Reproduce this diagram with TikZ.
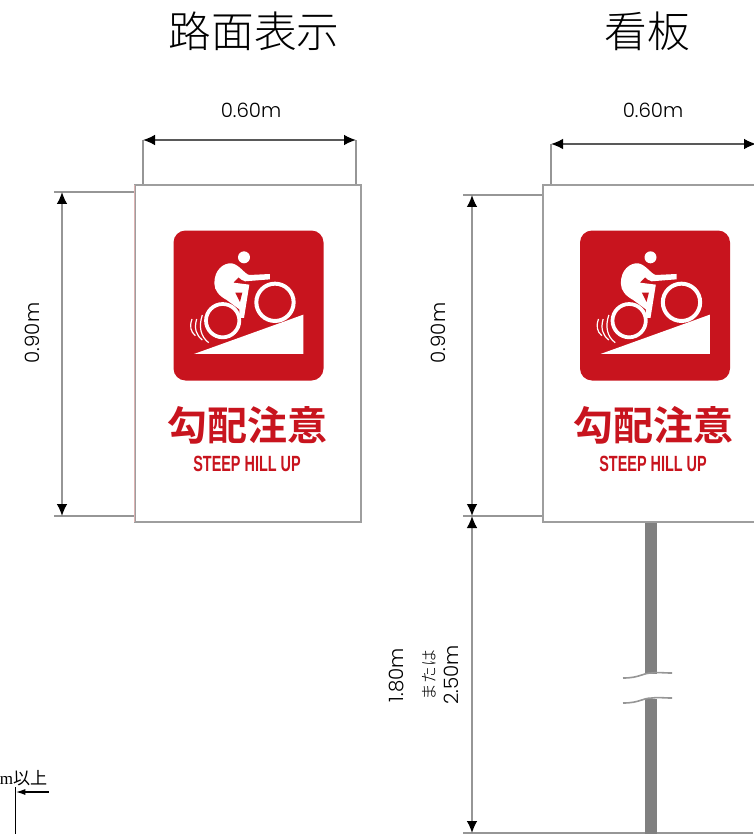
\documentclass[tikz,border=0pt]{standalone}
\usepackage{fontspec}
\usepackage{xcolor}
\usetikzlibrary{arrows.meta}
\setmainfont{Noto Sans CJK JP}
\newfontfamily\titlefont{Noto Sans CJK JP Light}
\newfontfamily\signfont{Noto Sans CJK JP Bold}
\newfontfamily\latinfont{Liberation Sans Bold}
\newfontfamily\dimfont{Poppins Light}
\newfontfamily\serifpart{Liberation Serif}
\definecolor{signred}{RGB}{200,20,30}
\definecolor{linegray}{RGB}{150,150,150}
\definecolor{polegray}{RGB}{128,128,128}
\tikzset{
  dimline/.style={color=linegray,line width=1.2pt},
  dimarrow/.style={dimline,{Latex[black,length=9pt,width=8pt]}-{Latex[black,length=9pt,width=8pt]}},
  widtharrow/.style={dimarrow,color=black!65},
  boardline/.style={color=black!38,line width=1.5pt,fill=white},
  titlelabel/.style={font=\titlefont\fontsize{32}{32}\selectfont},
  dimlabel/.style={font=\dimfont\fontsize{14.8}{15}\selectfont},
  jplabel/.style={font=\titlefont\fontsize{12.5}{13}\selectfont},
  signlabel/.style={font=\signfont\fontsize{30}{30}\selectfont,text=signred},
  englabel/.style={font=\latinfont\fontsize{16.5}{16.5}\selectfont,text=signred,xscale=0.655},
  cycleicon/.pic={
    \fill [signred,rounded corners=9pt] (0,0) rectangle (150,150);
    \begin{scope}[shift={(-13.5,-10.5)},scale=0.3333]
    \fill [white] (252,112) circle [radius=18];
    \fill [white] (163,190) .. controls (163,150) and (190,128) .. (215,130) .. controls (237,133) and (255,163) .. (268,165) -- (330,162) -- (330,178) -- (255,184) .. controls (245,181) and (240,176) .. (236,172) -- (220,188) -- (268,194) -- (252,294) -- (238,294) -- (238,268) -- (200,240) .. controls (178,228) and (163,212) .. (163,190) -- cycle;
    \fill [signred] (226,218) -- (247,218) -- (240,246) -- cycle;
    \draw [white,line width=3pt] (345,247) circle [radius=56];
    \draw [white,line width=2.8pt] (188,302) circle [radius=50];
    \fill [white] (102,402) -- (430,284) -- (430,402) -- cycle;
    \draw [white,line width=0.9pt] (96,297) .. controls (88,320) and (92,335) .. (106,347);
    \draw [white,line width=0.9pt] (110,297) .. controls (102,325) and (108,345) .. (127,360);
    \draw [white,line width=0.9pt] (127,285) .. controls (115,320) and (122,350) .. (146,368);
    \end{scope}
  }
}
\begin{document}
\begin{tikzpicture}[x=0.75pt,y=0.75pt,yscale=-1,xscale=1]
\useasboundingbox (0,0) rectangle (753,834);

% titles
\node [titlelabel] (titleroad) at (254,31) {路面表示};
\node [titlelabel] (titlepost) at (647,31) {看板};

% left sign
\coordinate (lefttopa) at (143,140);
\coordinate (lefttopb) at (356,140);
\coordinate (lefthigha) at (62,192);
\coordinate (lefthighb) at (62,516);
\draw [dimline] (143,185) -- (lefttopa);
\draw [dimline] (356,185) -- (lefttopb);
\draw [dimline] (54,192) -- (135,192);
\draw [dimline] (54,516) -- (135,516);
\draw [widtharrow] (lefttopa) -- (lefttopb);
\draw [dimarrow] (lefthigha) -- (lefthighb);
\draw [boardline] (135,185) rectangle (361,522);
\draw [color=red!55!black!30,line width=0.8pt] (134.5,185) -- (134.5,522);
\pic [transform shape] at (173.5,230.5) {cycleicon};
\node [signlabel] (signroad) at (247,425) {勾配注意};
\node [englabel] (engroad) at (247,464) {STEEP HILL UP};
\node [dimlabel] (widthroad) at (251,110) {0.60m};
\node [dimlabel,rotate=90] (heightroad) at (32,333) {0.90m};

% right sign and pole
\coordinate (righttopa) at (551,144);
\coordinate (righttopb) at (756,144);
\coordinate (righthigha) at (472,195);
\coordinate (righthighb) at (472,516);
\coordinate (rightlowb) at (472,833);
\draw [dimline] (551,185) -- (righttopa);
\draw [dimline] (463,195) -- (543,195);
\draw [dimline] (463,516) -- (543,516);
\draw [dimline] (463,833) -- (753,833);
\draw [widtharrow] (righttopa) -- (righttopb);
\draw [dimarrow] (righthigha) -- (righthighb);
\draw [dimarrow] (righthighb) -- (rightlowb);
\fill [polegray] (645,522) rectangle (657,674);
\fill [polegray] (645,699) rectangle (657,834);
\draw [dimline] (623,678) .. controls (640,678) and (642,673) .. (652,673) .. controls (658,672) and (662,673) .. (672,673);
\draw [dimline] (623,703) .. controls (640,703) and (642,698) .. (652,698) .. controls (658,697) and (662,698) .. (672,698);
\draw [boardline] (543,185) rectangle (760,522);
\pic [transform shape] at (580,230.5) {cycleicon};
\node [signlabel] (signpost) at (653,425) {勾配注意};
\node [englabel] (engpost) at (653,464) {STEEP HILL UP};
\node [dimlabel] (widthpost) at (653,110) {0.60m};
\node [dimlabel,rotate=90] (heightpost) at (438,333) {0.90m};
\node [dimlabel,rotate=90] (poleshort) at (397,675) {1.80m};
\node [jplabel,rotate=90] (poleor) at (429,675) {または};
\node [dimlabel,rotate=90] (polelong) at (451,675) {2.50m};

% cut off detail at the bottom
\coordinate (edgetip) at (16,792);
\coordinate (edgetail) at (49,792);
\node [anchor=east,inner sep=0pt,font=\fontsize{12.8}{13}\selectfont] (edgelabel) at (47.5,778) {{\serifpart m}以上};
\draw [line width=0.8pt] (15.5,787) -- (15.5,834);
\draw [line width=0.8pt,{Latex[length=7pt,width=4.5pt]}-] (edgetip) -- (edgetail);

\end{tikzpicture}
\end{document}
